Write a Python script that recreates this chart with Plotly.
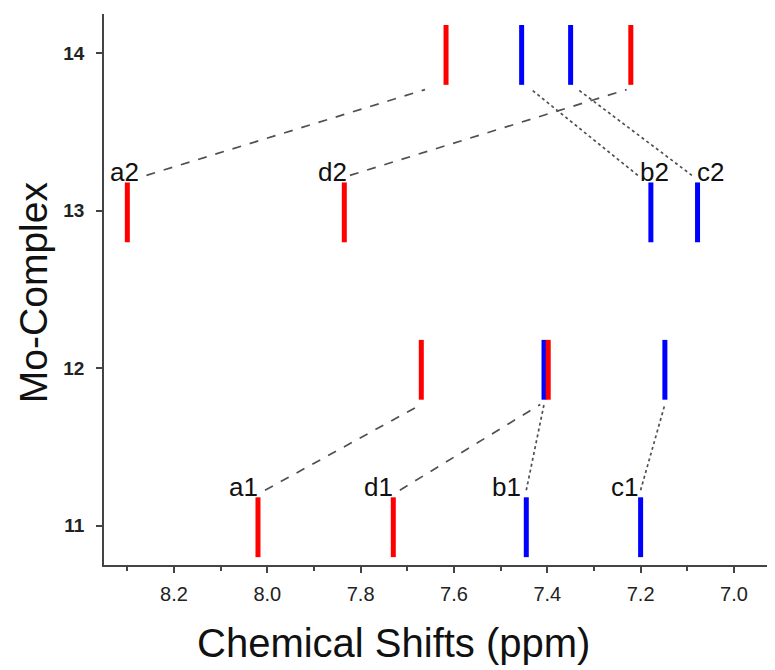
import plotly.graph_objects as go

# ---- data ----
complexes = [11, 12, 13, 14]
red_shifts = {11: [8.02, 7.73], 12: [7.67, 7.398], 13: [8.30, 7.835], 14: [7.617, 7.221]}
blue_shifts = {11: [7.445, 7.20], 12: [7.407, 7.148], 13: [7.178, 7.078], 14: [7.455, 7.350]}

x_ticks = [8.2, 8.0, 7.8, 7.6, 7.4, 7.2, 7.0]
y_ticks = [11, 12, 13, 14]

# peak labels: (text, complex, shift)
labels = [("a1", 11, 8.02), ("d1", 11, 7.73), ("b1", 11, 7.445), ("c1", 11, 7.20),
          ("a2", 13, 8.30), ("d2", 13, 7.835), ("b2", 13, 7.178), ("c2", 13, 7.078)]
label_style = {"a1": ("right", 2), "d1": ("right", 2), "b1": ("right", -3), "c1": ("right", -1),
               "a2": ("center", -3), "d2": ("right", 5), "b2": ("center", 4), "c2": ("left", -3)}

# correlation links: (lower complex, lower shift, upper complex, upper shift, dash, off_lo, off_hi)
links = [(11, 8.02, 12, 7.67, "dash", -0.015, 0.0),
         (11, 7.73, 12, 7.407, "dash", -0.014, 0.008),
         (11, 7.445, 12, 7.407, "dot", 0.0, 0.0),
         (11, 7.20, 12, 7.148, "dot", 0.0, 0.0),
         (13, 8.30, 14, 7.617, "dash", -0.041, 0.045),
         (13, 7.835, 14, 7.221, "dash", -0.012, 0.009),
         (13, 7.178, 14, 7.455, "dot", 0.028, -0.021),
         (13, 7.078, 14, 7.350, "dot", 0.012, -0.016)]

BAR_LO, BAR_HI = 0.20, 0.18
LINK_LO, LINK_HI = 0.225, 0.23
FONT = "Arial, Liberation Sans, sans-serif"

fig = go.Figure()

for lo_c, lo_x, hi_c, hi_x, dash, o_lo, o_hi in links:
    fig.add_trace(go.Scatter(
        x=[lo_x + o_lo, hi_x + o_hi], y=[lo_c + LINK_LO, hi_c - LINK_HI],
        mode="lines", line=dict(color="#505050", width=1.7, dash=dash),
        hoverinfo="skip", showlegend=False))

def bars(shifts):
    xs, ys = [], []
    for c in complexes:
        for s in shifts[c]:
            xs += [s, s, None]
            ys += [c - BAR_LO, c + BAR_HI, None]
    return xs, ys

bx, by = bars(blue_shifts)
rx, ry = bars(red_shifts)
fig.add_trace(go.Scatter(x=bx, y=by, mode="lines", line=dict(color="#0000ff", width=5),
                         showlegend=False, hoverinfo="skip"))
fig.add_trace(go.Scatter(x=rx, y=ry, mode="lines", line=dict(color="#ff0000", width=5),
                         showlegend=False, hoverinfo="skip"))

for text, c, s in labels:
    anchor, shift = label_style[text]
    fig.add_annotation(x=s, y=c + BAR_HI, text=text, showarrow=False,
                       xanchor=anchor, yanchor="bottom", xshift=shift, yshift=-7,
                       font=dict(family=FONT, size=26, color="#111111"))

# axis titles
fig.add_annotation(xref="paper", yref="paper", x=0.431, y=-0.142, text="Chemical Shifts (ppm)",
                   showarrow=False, xanchor="center", yanchor="middle",
                   font=dict(family=FONT, size=40, color="#111111"))
fig.add_annotation(xref="paper", yref="paper", x=-0.106, y=0.495, text="Mo-Complex", textangle=-90,
                   showarrow=False, xanchor="center", yanchor="middle",
                   font=dict(family=FONT, size=39, color="#111111"))

fig.update_layout(
    width=767, height=662,
    margin=dict(l=96, r=0, t=6, b=105),
    paper_bgcolor="white", plot_bgcolor="white",
    font=dict(family=FONT),
)
fig.update_xaxes(
    range=[8.35, 6.912], tickvals=x_ticks, ticktext=[f"{v:.1f}" for v in x_ticks],
    showgrid=False, zeroline=False, showline=True, linecolor="#444444", linewidth=1.5,
    ticks="outside", ticklen=6, tickwidth=1.5, tickcolor="#444444",
    minor=dict(dtick=0.1, tick0=7.0, ticks="outside", ticklen=4, tickwidth=1.5, tickcolor="#444444", showgrid=False),
    tickfont=dict(size=20, color="#222222"), ticklabelstandoff=4,
)
fig.update_yaxes(
    range=[10.75, 14.25], tickvals=y_ticks, ticktext=[f"<b>{v}</b>" for v in y_ticks],
    showgrid=False, zeroline=False, showline=True, linecolor="#444444", linewidth=1.5,
    ticks="outside", ticklen=6, tickwidth=1.5, tickcolor="#444444",
    tickfont=dict(size=19, color="#222222"), ticklabelstandoff=8,
)

fig.write_html("out.html")
